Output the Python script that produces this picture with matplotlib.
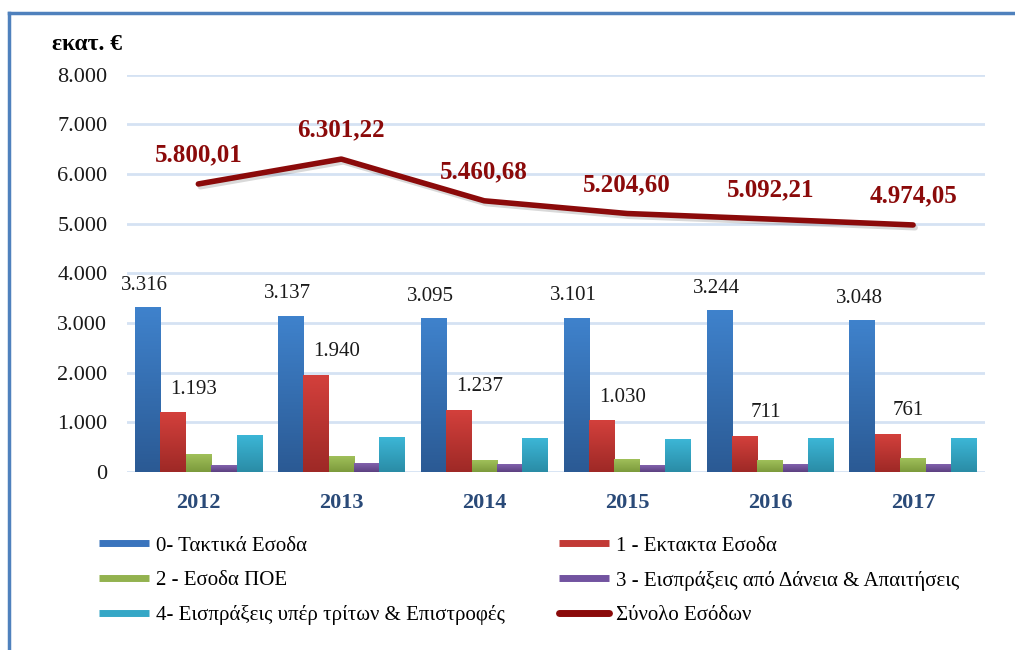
import matplotlib.pyplot as plt
import matplotlib.patheffects as pe
from matplotlib.lines import Line2D
from matplotlib.colors import LinearSegmentedColormap
import numpy as np

plt.rcParams['font.family'] = ['Liberation Serif', 'DejaVu Serif']

years = ['2012', '2013', '2014', '2015', '2016', '2017']
taktika = [3316, 3137, 3095, 3101, 3244, 3048]
ektakta = [1193, 1940, 1237, 1030, 711, 761]
poe = [356, 308, 225, 255, 240, 265]
daneia = [127, 181, 145, 125, 145, 145]
tritoi = [737, 690, 670, 645, 665, 665]
synolo = [5800.01, 6301.22, 5460.68, 5204.60, 5092.21, 4974.05]

onomata = ['0- Τακτικά Εσοδα', '1 - Εκτακτα Εσοδα', '2 - Εσοδα ΠΟΕ',
           '3 - Εισπράξεις από Δάνεια & Απαιτήσεις',
           '4- Εισπράξεις υπέρ τρίτων & Επιστροφές']
synolo_onoma = 'Σύνολο Εσόδων'

# gradient colours (top, bottom)
xromata = [('#3f82cc', '#2b5a94'), ('#d3403c', '#9e2926'), ('#a0c05a', '#7c9a3c'),
           ('#8262ad', '#5c4180'), ('#3cb6d6', '#2a8ca6')]
legend_xr = ['#3a74bd', '#c23a36', '#93b24f', '#7253a0', '#35a7c6']

def teleies(v, dec=0):
    s = f"{v:,.{dec}f}"
    return s.replace(',', 'X').replace('.', ',').replace('X', '.')

fig = plt.figure(figsize=(10.15, 6.5), dpi=100)
ax = fig.add_axes([0.125, 0.274, 0.845, 0.611])

seires = [taktika, ektakta, poe, daneia, tritoi]
x = np.arange(len(years))
w = 0.178
grad = np.linspace(1, 0, 100).reshape(-1, 1)
for i, vals in enumerate(seires):
    cm = LinearSegmentedColormap.from_list('g%d' % i, [xromata[i][1], xromata[i][0]])
    pos = x + (i - 2) * w
    for xp, v in zip(pos, vals):
        ax.imshow(grad, cmap=cm, extent=[xp - w / 2, xp + w / 2, 0, v],
                  aspect='auto', zorder=3, vmin=0, vmax=1)

for xp, v in zip(x - 2 * w, taktika):
    ax.annotate(teleies(v), (xp, v), xytext=(-2, 16), textcoords='offset points',
                ha='center', va='center', fontsize=15, color='#1a1a1a', zorder=5)
for xp, v in zip(x - w, ektakta):
    ax.annotate(teleies(v), (xp, v), xytext=(15, 17), textcoords='offset points',
                ha='center', va='center', fontsize=15, color='#1a1a1a', zorder=5)

ax.plot(x, synolo, color='#8b0a0a', lw=4, zorder=4, solid_capstyle='round',
        path_effects=[pe.SimpleLineShadow(offset=(1.5, -2), alpha=0.15), pe.Normal()])
for xp, v in zip(x, synolo):
    ax.annotate(teleies(v, 2), (xp, v), xytext=(0, 21), textcoords='offset points',
                ha='center', va='center', fontsize=18, fontweight='bold',
                color='#8b0a0a', zorder=5)

ax.set_xlim(-0.5, 5.5)
ax.set_ylim(0, 8000)
ax.set_yticks(np.arange(0, 8001, 1000))
ax.set_yticklabels([teleies(t) for t in range(0, 8001, 1000)], fontsize=16, color='#1a1a1a')
ax.set_xticks(x)
ax.set_xticklabels(years, fontsize=16, fontweight='bold', color='#2a4a78')
ax.tick_params(axis='both', length=0)
ax.tick_params(axis='y', pad=14)
ax.tick_params(axis='x', pad=15)
ax.grid(axis='y', color='#d5e2f3', lw=2)
ax.set_axisbelow(True)
for s in ax.spines.values():
    s.set_visible(False)

fig.text(0.051, 0.932, 'εκατ. €', fontsize=17, fontweight='bold', ha='left', va='center')

h = [Line2D([], [], color=c, lw=5, solid_capstyle='butt') for c in legend_xr]
hl = Line2D([], [], color='#8b0a0a', lw=5, solid_capstyle='round')
handles = [h[0], h[2], h[4], h[1], h[3], hl]
labels = [onomata[0], onomata[2], onomata[4], onomata[1], onomata[3], synolo_onoma]
fig.legend(handles, labels, ncol=2, loc='upper left', bbox_to_anchor=(0.089, 0.188),
           frameon=False, fontsize=15, handlelength=2.4, handletextpad=0.34,
           labelspacing=0.72, columnspacing=2.6, borderaxespad=0)

# blue frame (top and left edge)
fig.add_artist(Line2D([0.0085, 1.0], [0.98, 0.98], color='#4f81bd', lw=2.5,
                      transform=fig.transFigure))
fig.add_artist(Line2D([0.0085, 0.0085], [0.0, 0.98], color='#4f81bd', lw=2.5,
                      transform=fig.transFigure))

fig.savefig('out.png', dpi=100)
